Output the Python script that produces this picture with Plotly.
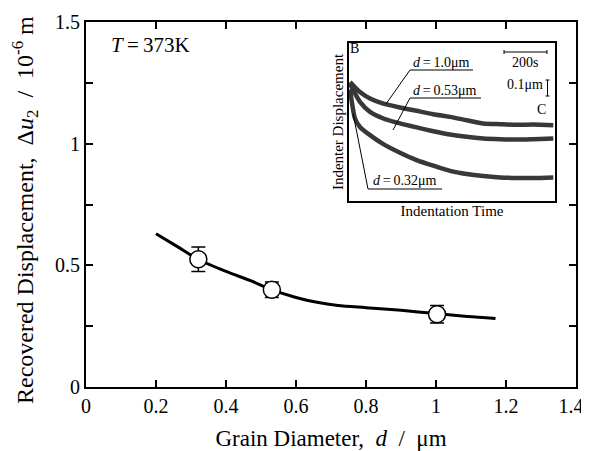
import plotly.graph_objects as go

# ---- main data ----
grain_d = [0.321, 0.531, 1.003]
recovered = [0.525, 0.400, 0.299]
recovered_err = [0.050, 0.032, 0.036]

fit_d = [0.20, 0.26, 0.32, 0.40, 0.47, 0.53, 0.60, 0.66, 0.72, 0.80, 0.90, 1.00, 1.09, 1.17]
fit_u = [0.630, 0.578, 0.525, 0.475, 0.437, 0.400, 0.368, 0.348, 0.335, 0.326, 0.315, 0.302, 0.290, 0.282]

# ---- inset data (time in s, relative displacement in um) ----
t_top = [4.7, 51.5, 98.4, 160.8, 238.9, 316.9, 395, 473, 551, 629, 707, 785, 863, 957]
disp_d100 = [0.746, 0.683, 0.642, 0.610, 0.586, 0.565, 0.544, 0.527, 0.506, 0.486, 0.481, 0.477, 0.479, 0.475]
t_mid = [4.7, 51.5, 98.4, 160.8, 238.9, 316.9, 395, 473, 551, 629, 707, 785, 863, 957]
disp_d053 = [0.735, 0.621, 0.558, 0.517, 0.486, 0.461, 0.4375, 0.417, 0.402, 0.392, 0.3875, 0.385, 0.3875, 0.392]
t_bot = [4.7, 28.1, 51.5, 98.4, 160.8, 238.9, 316.9, 395, 473, 551, 629, 707, 785, 863, 957]
disp_d032 = [0.700, 0.517, 0.464, 0.4125, 0.356, 0.302, 0.256, 0.221, 0.189, 0.169, 0.156, 0.148, 0.144, 0.144, 0.148]

x_ticks = [0, 0.2, 0.4, 0.6, 0.8, 1, 1.2, 1.4]
x_ticklabels = ["0", "0.2", "0.4", "0.6", "0.8", "1", "1.2", "1.4"]
y_ticks = [0, 0.5, 1, 1.5]
y_ticklabels = ["0", "0.5", "1", "1.5"]

FONT = "Liberation Serif, Times New Roman, serif"
NB = "\u00a0"

# The page body adds an 8 px offset; geometry below is in screenshot pixels.
OFF = 8
W, H = 589 - OFF, 451 - OFF
L, R, T, B = 86 - OFF, 13, 22 - OFF, 64
PW, PH = W - L - R, H - T - B

# inset box in screenshot pixels
IX0, IX1, IY0, IY1 = 349, 555, 43, 201
T_RANGE = [0, 965]
D_RANGE = [0, 0.99]


def pxp(px):
    return (px - OFF - L) / PW


def pyp(py):
    return (H - B - (py - OFF)) / PH


def ix(px):
    return (px - IX0) / (IX1 - IX0) * (T_RANGE[1] - T_RANGE[0]) + T_RANGE[0]


def iy(py):
    return (IY1 - py) / (IY1 - IY0) * (D_RANGE[1] - D_RANGE[0]) + D_RANGE[0]


fig = go.Figure()

fig.add_trace(go.Scatter(x=fit_d, y=fit_u, mode="lines",
                         line=dict(color="black", width=3, shape="spline", smoothing=0.8),
                         showlegend=False, hoverinfo="skip"))
fig.add_trace(go.Scatter(x=grain_d, y=recovered, mode="markers",
                         marker=dict(symbol="circle", size=17, color="white",
                                     line=dict(color="black", width=1.5)),
                         error_y=dict(type="data", array=recovered_err, visible=True,
                                      color="black", thickness=1.5, width=7),
                         showlegend=False))

for tt, dd in [(t_top, disp_d100), (t_mid, disp_d053), (t_bot, disp_d032)]:
    fig.add_trace(go.Scatter(x=tt, y=dd, mode="lines", xaxis="x2", yaxis="y2",
                             line=dict(color="#383838", width=4.5, shape="spline", smoothing=0.6),
                             showlegend=False, hoverinfo="skip"))

axis_common = dict(showline=True, linecolor="black", linewidth=2, mirror="ticks",
                   ticks="inside", ticklen=7, tickwidth=1.5, tickcolor="black",
                   showgrid=False, zeroline=False, automargin=False,
                   ticklabeloverflow="allow",
                   tickfont=dict(family=FONT, size=20, color="black"))

# pad the last x label so it stays inside the page, as in the reference
x_ticktext = x_ticklabels[:-1] + [x_ticklabels[-1] + NB * 2]

fig.update_layout(
    width=W, height=H,
    margin=dict(l=L, r=R, t=T, b=B),
    plot_bgcolor="white", paper_bgcolor="white",
    font=dict(family=FONT, color="black"),
    xaxis=dict(range=[0, 1.4], tickvals=x_ticks, ticktext=x_ticktext,
               title=dict(text=f"Grain Diameter,{NB}{NB}<i>d</i>{NB}{NB}/{NB}{NB}μm",
                          font=dict(family=FONT, size=23), standoff=14),
               **axis_common),
    yaxis=dict(range=[0, 1.5], tickvals=y_ticks, ticktext=y_ticklabels,
               minor=dict(dtick=0.25, ticks="inside", ticklen=7, tickwidth=1.5, tickcolor="black"),
               **axis_common),
    xaxis2=dict(domain=[pxp(IX0), pxp(IX1)], range=T_RANGE, anchor="y2",
                showline=True, linecolor="black", linewidth=1.5, mirror=True, automargin=False,
                showticklabels=False, ticks="", showgrid=False, zeroline=False,
                title=dict(text="Indentation Time", font=dict(family=FONT, size=15), standoff=4)),
    yaxis2=dict(domain=[pyp(IY1), pyp(IY0)], range=D_RANGE, anchor="x2",
                showline=True, linecolor="black", linewidth=1.5, mirror=True, automargin=False,
                showticklabels=False, ticks="", showgrid=False, zeroline=False,
                title=dict(text="Indenter Displacement", font=dict(family=FONT, size=15), standoff=0)),
)

annos = [
    dict(text=f"Recovered Displacement,{NB}{NB}Δ<i>u</i><sub>2</sub>{NB}{NB}/{NB}{NB}10<sup>-6</sup>{NB}m",
         x=pxp(25), y=pyp(210), xref="paper", yref="paper", textangle=-90,
         font=dict(size=24)),
    dict(text="<i>T</i>\u2009=\u2009373K", x=pxp(150), y=pyp(45), xref="paper", yref="paper",
         font=dict(size=21)),
    dict(text="B", x=ix(354), y=iy(48), xref="x2", yref="y2", font=dict(size=14)),
    dict(text="C", x=ix(541), y=iy(109), xref="x2", yref="y2", font=dict(size=14)),
    dict(text="<i>d</i>\u2009=\u20091.0μm", x=ix(441), y=iy(62), xref="x2", yref="y2", font=dict(size=14)),
    dict(text="<i>d</i>\u2009=\u20090.53μm", x=ix(445), y=iy(90), xref="x2", yref="y2", font=dict(size=14)),
    dict(text="<i>d</i>\u2009=\u20090.32μm", x=ix(405), y=iy(180), xref="x2", yref="y2", font=dict(size=14)),
    dict(text="200s", x=ix(525), y=iy(62), xref="x2", yref="y2", font=dict(size=14)),
    dict(text="0.1μm", x=ix(525), y=iy(84), xref="x2", yref="y2", font=dict(size=14)),
]
for a in annos:
    a.setdefault("showarrow", False)
    a["xanchor"] = "center"
    a["yanchor"] = "middle"
    a["font"] = dict(family=FONT, color="black", **a["font"])
    fig.add_annotation(**a)

# leader lines and scale bars in inset (data units of the inset axes)
segs = [
    # d = 1.0
    (410, 70, 473, 70), (410, 70, 386, 104),
    # d = 0.53
    (410, 98, 481, 98), (410, 98, 393, 130),
    # d = 0.32
    (368, 189, 442, 189), (368, 189, 353, 113),
    # 200 s bar
    (504, 52, 547, 52), (504, 50, 504, 54), (547, 50, 547, 54),
    # 0.1 um bar
    (547.5, 80, 547.5, 96), (545.5, 80, 549.5, 80), (545.5, 96, 549.5, 96),
]
for x0, y0, x1, y1 in segs:
    fig.add_shape(type="line", xref="x2", yref="y2",
                  x0=ix(x0), y0=iy(y0), x1=ix(x1), y1=iy(y1),
                  line=dict(color="black", width=1))

fig.write_html("out.html")
